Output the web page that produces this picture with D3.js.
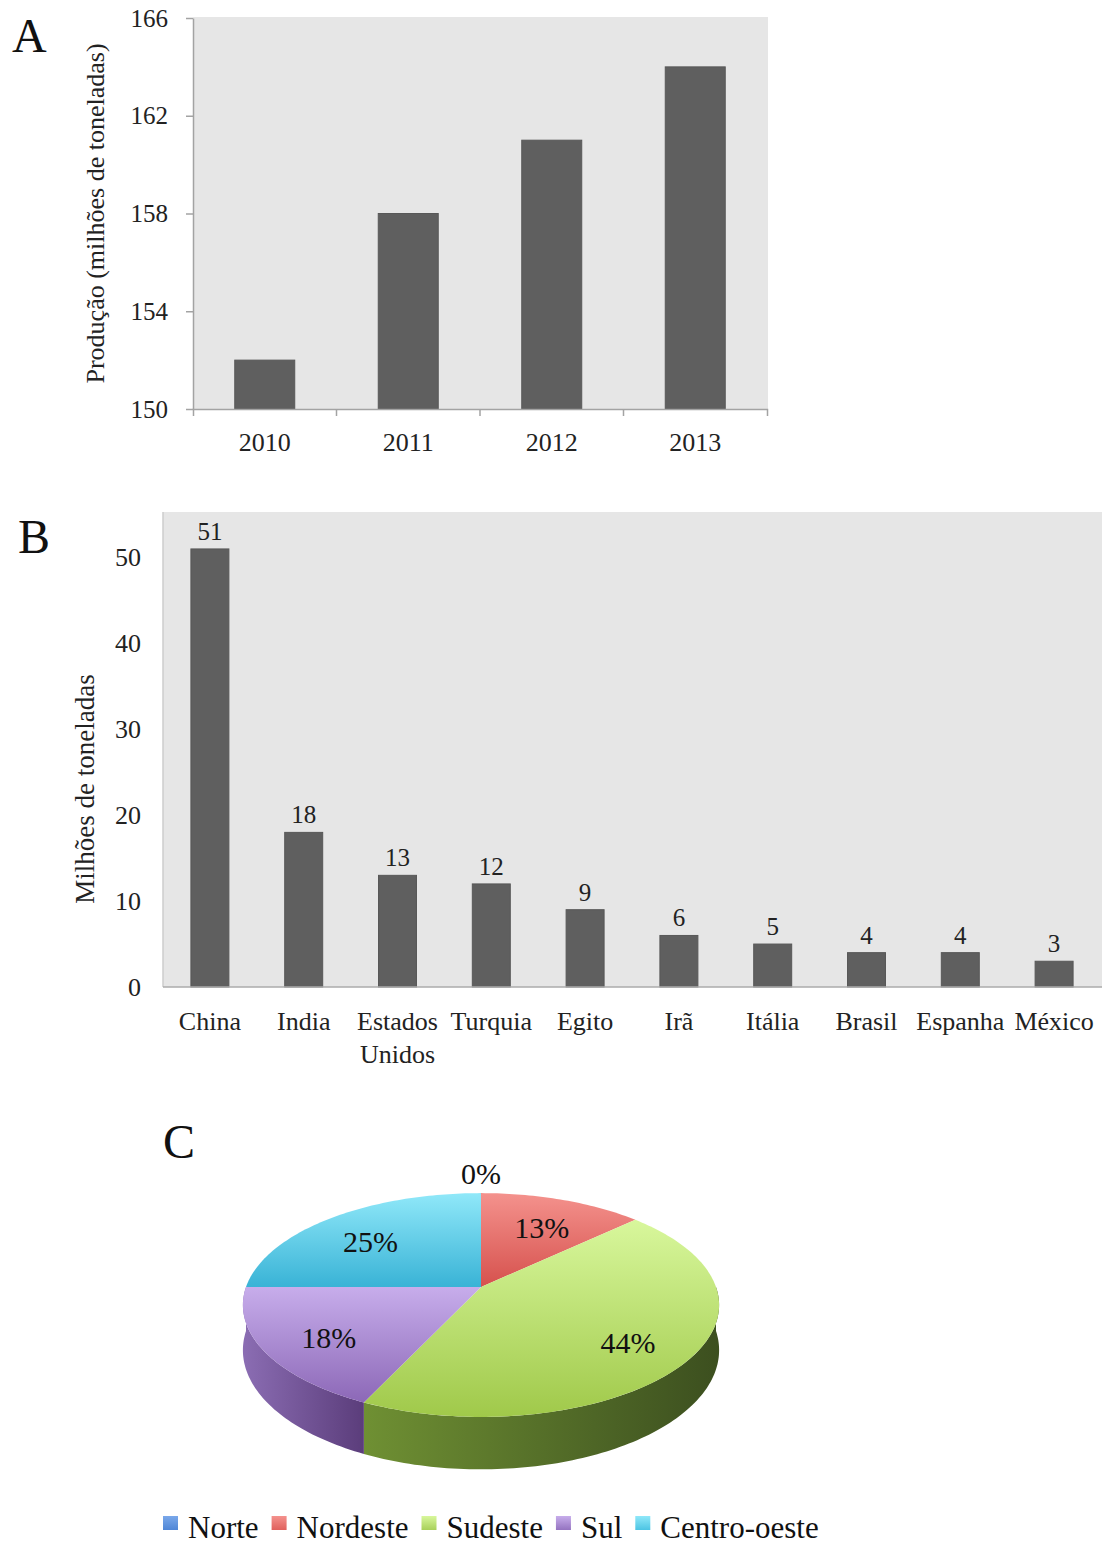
<!DOCTYPE html>
<html>
<head>
<meta charset="utf-8">
<script src="https://cdn.jsdelivr.net/npm/d3@7"></script>
<style>
  html, body { margin: 0; padding: 0; background: #fff; }
  svg { display: block; }
  text { font-family: "Liberation Serif", "Times New Roman", serif; }
</style>
</head>
<body>
<svg id="fig" width="1102" height="1546"></svg>
<script>
// ---- Panel A: produção total por ano (milhões de toneladas)
const years = ["2010", "2011", "2012", "2013"];
const productionTotal = [152, 158, 161, 164];
const productionTicks = [150, 154, 158, 162, 166];

// ---- Panel B: maiores produtores (milhões de toneladas)
const countries = ["China", "India", "Estados Unidos", "Turquia", "Egito", "Irã", "Itália", "Brasil", "Espanha", "México"];
const countryProduction = [51, 18, 13, 12, 9, 6, 5, 4, 4, 3];
const countryTicks = [0, 10, 20, 30, 40, 50];

// ---- Panel C: participação por região (%)
const regions = ["Norte", "Nordeste", "Sudeste", "Sul", "Centro-oeste"];
const regionShare = [0, 13, 44, 18, 25];

// Colour styling for the regions (legend, top faces, sides)
const regionStyle = {
  "Norte":        { legend: "#4f86d6", light: "#7aa8ea", dark: "#3f72c4", sideL: "#3a66b0", sideR: "#24467e" },
  "Nordeste":     { legend: "#e0605c", light: "#f4928d", dark: "#d6514d", sideL: "#b8423e", sideR: "#7e2a27" },
  "Sudeste":      { legend: "#a8d05a", light: "#d8f79c", dark: "#a0c94a", sideL: "#6f9033", sideR: "#3c4f1f" },
  "Sul":          { legend: "#9473c0", light: "#c7adeb", dark: "#8c68b7", sideL: "#8b6db3", sideR: "#5b3d7b" },
  "Centro-oeste": { legend: "#4cc4e3", light: "#90e8f9", dark: "#39b3d6", sideL: "#2e93b2", sideR: "#1d6a82" }
};

const TXT = "#222";
const svg = d3.select("#fig");
svg.append("rect").attr("width", 1102).attr("height", 1546).attr("fill", "#fff");

function styleAxis(g, color, fontSize) {
  g.select(".domain").attr("stroke", color).attr("stroke-width", 1.5);
  g.selectAll(".tick line").attr("stroke", color).attr("stroke-width", 1.5);
  g.selectAll(".tick text").attr("fill", TXT).attr("font-size", fontSize)
    .attr("font-family", "'Liberation Serif', 'Times New Roman', serif");
}

// ======================= Panel A =======================
const gA = svg.append("g");
const xA = d3.scaleBand().domain(years).range([193, 767]).paddingInner(0.582).paddingOuter(0.291);
const yA = d3.scaleLinear().domain([150, 166]).range([409, 18]);

gA.append("rect").attr("x", 193).attr("y", 17).attr("width", 575).attr("height", 392).attr("fill", "#e6e6e6");

gA.selectAll("rect.bar").data(years).join("rect").attr("class", "bar")
  .attr("x", d => xA(d))
  .attr("width", xA.bandwidth())
  .attr("y", (d, i) => yA(productionTotal[i]))
  .attr("height", (d, i) => yA(150) - yA(productionTotal[i]))
  .attr("fill", "#5f5f5f")
  .attr("stroke", "#585858").attr("stroke-width", 1);

const axAy = gA.append("g").attr("transform", "translate(193,0)")
  .call(d3.axisLeft(yA).tickValues(productionTicks).tickSize(7).tickPadding(18).tickSizeOuter(0));
styleAxis(axAy, "#a3a3a3", 25);

const axAx = gA.append("g").attr("transform", "translate(0,409)")
  .call(d3.axisBottom(xA).tickSize(0).tickPadding(24).tickSizeOuter(7));
styleAxis(axAx, "#a3a3a3", 26);

// separators between year categories
gA.selectAll("line.sep").data(years.slice(1)).join("line").attr("class", "sep")
  .attr("x1", d => xA(d) - xA.step() * xA.paddingInner() / 2)
  .attr("x2", d => xA(d) - xA.step() * xA.paddingInner() / 2)
  .attr("y1", 409).attr("y2", 416)
  .attr("stroke", "#a3a3a3").attr("stroke-width", 1.5);

gA.append("text")
  .attr("transform", "translate(104," + ((18 + 409) / 2) + ") rotate(-90)")
  .attr("text-anchor", "middle").attr("font-size", 26).attr("fill", TXT)
  .text("Produção (milhões de toneladas)");

svg.append("text").attr("x", 12).attr("y", 52).attr("font-size", 48).attr("fill", "#111").text("A");

// ======================= Panel B =======================
const gB = svg.append("g");
const xB = d3.scaleBand().domain(countries).range([163, 1101]).paddingInner(0.595).paddingOuter(0.2975);
const yB = d3.scaleLinear().domain([0, 55.3]).range([987, 512]);

gB.append("rect").attr("x", 163).attr("y", 512).attr("width", 939).attr("height", 475).attr("fill", "#e6e6e6");

gB.selectAll("rect.bar").data(countries).join("rect").attr("class", "bar")
  .attr("x", d => xB(d))
  .attr("width", xB.bandwidth())
  .attr("y", (d, i) => yB(countryProduction[i]))
  .attr("height", (d, i) => yB(0) - yB(countryProduction[i]))
  .attr("fill", "#5f5f5f")
  .attr("stroke", "#585858").attr("stroke-width", 1);

gB.selectAll("text.val").data(countries).join("text").attr("class", "val")
  .attr("x", d => xB(d) + xB.bandwidth() / 2)
  .attr("y", (d, i) => yB(countryProduction[i]) - 9)
  .attr("text-anchor", "middle").attr("font-size", 25).attr("fill", TXT)
  .text((d, i) => countryProduction[i]);

const axBy = gB.append("g").attr("transform", "translate(163,0)")
  .call(d3.axisLeft(yB).tickValues(countryTicks).tickSize(0).tickPadding(22).tickSizeOuter(0));
styleAxis(axBy, "#cdcdcd", 26);
axBy.select(".domain").attr("d", "M0," + yB(0) + "V512");

const axBx = gB.append("g").attr("transform", "translate(0,987)")
  .call(d3.axisBottom(xB).tickSize(0).tickPadding(25).tickSizeOuter(0));
styleAxis(axBx, "#ababab", 26);
axBx.select(".domain").attr("d", "M163,0H1102");

// wrap multi-word country names onto two lines
axBx.selectAll(".tick text").each(function (d) {
  const words = d.split(" ");
  if (words.length > 1) {
    const t = d3.select(this);
    t.text(null);
    words.forEach((w, i) => {
      t.append("tspan").attr("x", 0).attr("dy", i === 0 ? "0.71em" : "1.27em").text(w);
    });
    t.attr("dy", null);
  }
});

gB.append("text")
  .attr("transform", "translate(94," + 789 + ") rotate(-90)")
  .attr("text-anchor", "middle").attr("font-size", 27).attr("fill", TXT)
  .text("Milhões de toneladas");

svg.append("text").attr("x", 18).attr("y", 553).attr("font-size", 48).attr("fill", "#111").text("B");

// ======================= Panel C: 3D pie =======================
svg.append("text").attr("x", 163).attr("y", 1158).attr("font-size", 48).attr("fill", "#111").text("C");

const gC = svg.append("g");
const defs = svg.append("defs");
const cx = 481, cy = 1287, R = 235, A = 109, k = 0.161, depth = 44;

// perspective projection of a point on the pie disc
function proj(a, r, drop) {
  const u = r * Math.sin(a), v = r * Math.cos(a);
  const s = 1 / (1 + k * v);
  return [cx + R * u * s, cy - A * v * s + drop * s];
}
function arcPts(a0, a1, r, drop) {
  const n = Math.max(2, Math.ceil((a1 - a0) / 0.02));
  return d3.range(n + 1).map(i => proj(a0 + (a1 - a0) * i / n, r, drop));
}

const arcs = d3.pie().sort(null).value(d => d)(regionShare);
const line = d3.line();

regions.forEach((name, i) => {
  const st = regionStyle[name];
  const gt = defs.append("linearGradient").attr("id", "top" + i)
    .attr("x1", 0).attr("y1", 0).attr("x2", 0).attr("y2", 1);
  gt.append("stop").attr("offset", 0).attr("stop-color", st.light);
  gt.append("stop").attr("offset", 1).attr("stop-color", st.dark);
  const gs = defs.append("linearGradient").attr("id", "side" + i)
    .attr("x1", 0).attr("y1", 0).attr("x2", 1).attr("y2", 0);
  gs.append("stop").attr("offset", 0).attr("stop-color", st.sideL);
  gs.append("stop").attr("offset", 1).attr("stop-color", st.sideR);
});

// visible side walls (front half of the cylinder)
const frontA0 = Math.PI / 2, frontA1 = 3 * Math.PI / 2;
arcs.forEach((d, i) => {
  const a0 = Math.max(d.startAngle, frontA0), a1 = Math.min(d.endAngle, frontA1);
  if (a1 <= a0) return;
  const topEdge = arcPts(a0, a1, 1, 0);
  const botEdge = arcPts(a0, a1, 1, depth).reverse();
  gC.append("path").attr("d", line(topEdge.concat(botEdge)) + "Z")
    .attr("fill", "url(#side" + i + ")");
});

// top faces
arcs.forEach((d, i) => {
  const pts = [[cx, cy]].concat(arcPts(d.startAngle, d.endAngle, 1, 0));
  const p = gC.append("path").attr("d", line(pts) + "Z")
    .attr("fill", "url(#top" + i + ")");
  if (d.value === 0) p.attr("stroke", regionStyle[regions[i]].legend).attr("stroke-width", 2);
});

// percentage labels (empty slices are labelled just outside the rim)
arcs.forEach((d, i) => {
  const mid = (d.startAngle + d.endAngle) / 2;
  const pos = proj(mid, d.value === 0 ? 1.33 : 0.72, 0);
  gC.append("text").attr("x", pos[0]).attr("y", pos[1]).attr("dy", "0.55em")
    .attr("text-anchor", "middle").attr("font-size", 30).attr("fill", "#111")
    .text(regionShare[i] + "%");
});

// legend
const gL = svg.append("g");
let lx = 163;
regions.forEach((name, i) => {
  const st = regionStyle[name];
  const lg = defs.append("linearGradient").attr("id", "leg" + i)
    .attr("x1", 0).attr("y1", 0).attr("x2", 0).attr("y2", 1);
  lg.append("stop").attr("offset", 0).attr("stop-color", st.light);
  lg.append("stop").attr("offset", 1).attr("stop-color", st.legend);
  gL.append("rect").attr("x", lx).attr("y", 1516).attr("width", 15).attr("height", 14)
    .attr("fill", "url(#leg" + i + ")");
  const t = gL.append("text").attr("x", lx + 25).attr("y", 1538)
    .attr("font-size", 31).attr("fill", "#111").text(name);
  lx = lx + 25 + t.node().getComputedTextLength() + 13;
});
</script>
</body>
</html>
